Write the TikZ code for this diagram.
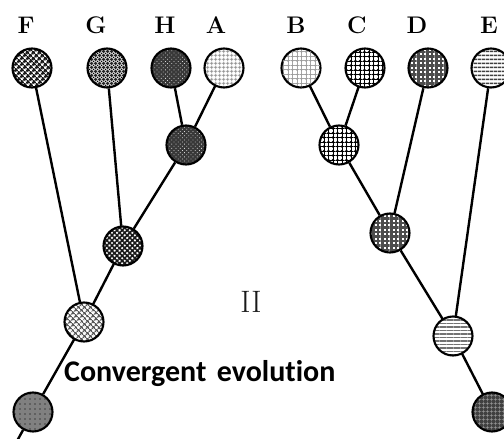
\documentclass[tikz,border=0pt]{standalone}
\usepackage{fontspec}
\newfontfamily\calib[Ligatures=NoCommon]{Carlito}
\usetikzlibrary{patterns,patterns.meta}
\begin{document}
\begin{tikzpicture}[x=1pt,y=-1pt,
  sp/.style={circle,draw=black,line width=2.1pt,minimum size=39pt,inner sep=0pt},
  edge/.style={line width=2.4pt},
  lbl/.style={anchor=base,font=\bfseries\fontsize{24}{28}\selectfont,inner sep=0pt},
  pF/.style={preaction={fill=white},pattern={Hatch[angle=45,distance=4pt,line width=1.9pt]},pattern color=black!90},
  pG/.style={preaction={fill=white},pattern={Hatch[angle=0,distance=4pt,line width=2pt]},pattern color=black!85,
     postaction={pattern={Dots[radius=1pt,distance=4pt,xshift=2pt,yshift=2pt]},pattern color=black}},
  pH/.style={preaction={fill=black!78},pattern={Dots[radius=0.55pt,distance=3pt,angle=45]},pattern color=white!85!black},
  pA/.style={preaction={fill=white},pattern={Hatch[angle=0,distance=4pt,line width=0.9pt]},pattern color=black!45},
  pB/.style={preaction={fill=white},pattern={Hatch[angle=0,distance=4.5pt,line width=1pt]},pattern color=black!35,
     postaction={pattern={Dots[radius=0.8pt,distance=4.5pt]},pattern color=black!40}},
  pC/.style={preaction={fill=white},pattern={Hatch[angle=0,distance=4.5pt,line width=0.5pt]},pattern color=black,
     postaction={pattern={Dots[radius=1.4pt,distance=4.5pt]},pattern color=black}},
  pD/.style={preaction={fill=white},pattern={Hatch[angle=0,distance=4.5pt,line width=2.6pt]},pattern color=black!70},
  pE/.style={preaction={fill=white},pattern={Lines[angle=0,distance=4pt,line width=2pt]},pattern color=black!75},
  pFn/.style={preaction={fill=white},pattern={Hatch[angle=45,distance=4pt,line width=1.3pt]},pattern color=black!65},
  pGn/.style={preaction={fill=white},pattern={Hatch[angle=45,distance=3.6pt,line width=1.6pt]},pattern color=black!90},
  pL/.style={preaction={fill=black!50},pattern={Dots[radius=0.8pt,distance=5pt]},pattern color=black!75},
  pEn/.style={preaction={fill=white},pattern={Lines[angle=0,distance=3.5pt,line width=1.1pt]},pattern color=black!55},
  pR/.style={preaction={fill=black!75},pattern={Hatch[angle=0,distance=4pt,line width=0.6pt]},pattern color=black!40},
]
\useasboundingbox (0,0) rectangle (504,439);
% leaves
\node[sp,pF] (F) at (32,68) {};
\node[sp,pG] (G) at (107,68) {};
\node[sp,pH] (H) at (171,68) {};
\node[sp,pA] (A) at (224,68) {};
\node[sp,pB] (B) at (301,68) {};
\node[sp,pC] (C) at (365,68) {};
\node[sp,pD] (D) at (428,68) {};
\node[sp,pE] (E) at (491,68) {};
% internal
\node[sp,pH] (HA) at (186,145) {};
\node[sp,pC] (BC) at (339,145) {};
\node[sp,pGn] (Gn) at (123,246) {};
\node[sp,pFn] (Fn) at (84,322) {};
\node[sp,pL] (L) at (33,412) {};
\node[sp,pD] (Dn) at (390,233) {};
\node[sp,pEn] (En) at (453,336) {};
\node[sp,pR] (R) at (492,412) {};
\coordinate (root) at (17,441);
% labels
\node[lbl] (lF) at (26,33) {F};
\node[lbl] (lG) at (96,33) {G};
\node[lbl] (lH) at (165,33) {H};
\node[lbl] (lA) at (216,33) {A};
\node[lbl] (lB) at (296,33) {B};
\node[lbl] (lC) at (357,33) {C};
\node[lbl] (lD) at (417,33) {D};
\node[lbl] (lE) at (489,33) {E};
\node[anchor=base,inner sep=0pt,font=\fontsize{31}{34}\selectfont,text=black!90] (II) at (251,312) {II};
\node[anchor=base west,inner sep=0pt,font=\calib\bfseries\fontsize{30}{34}\selectfont] (ce) at (64,381) {Convergent\hspace{0.35em}evolution};
% edges
\draw[edge] (F) -- (Fn);
\draw[edge] (G) -- (Gn);
\draw[edge] (H) -- (HA);
\draw[edge] (A) -- (HA);
\draw[edge] (HA) -- (Gn);
\draw[edge] (Gn) -- (Fn);
\draw[edge] (Fn) -- (L);
\draw[edge] (L) -- (root);
\draw[edge] (B) -- (BC);
\draw[edge] (C) -- (BC);
\draw[edge] (BC) -- (Dn);
\draw[edge] (D) -- (Dn);
\draw[edge] (Dn) -- (En);
\draw[edge] (E) -- (En);
\draw[edge] (En) -- (R);
\end{tikzpicture}
\end{document}
